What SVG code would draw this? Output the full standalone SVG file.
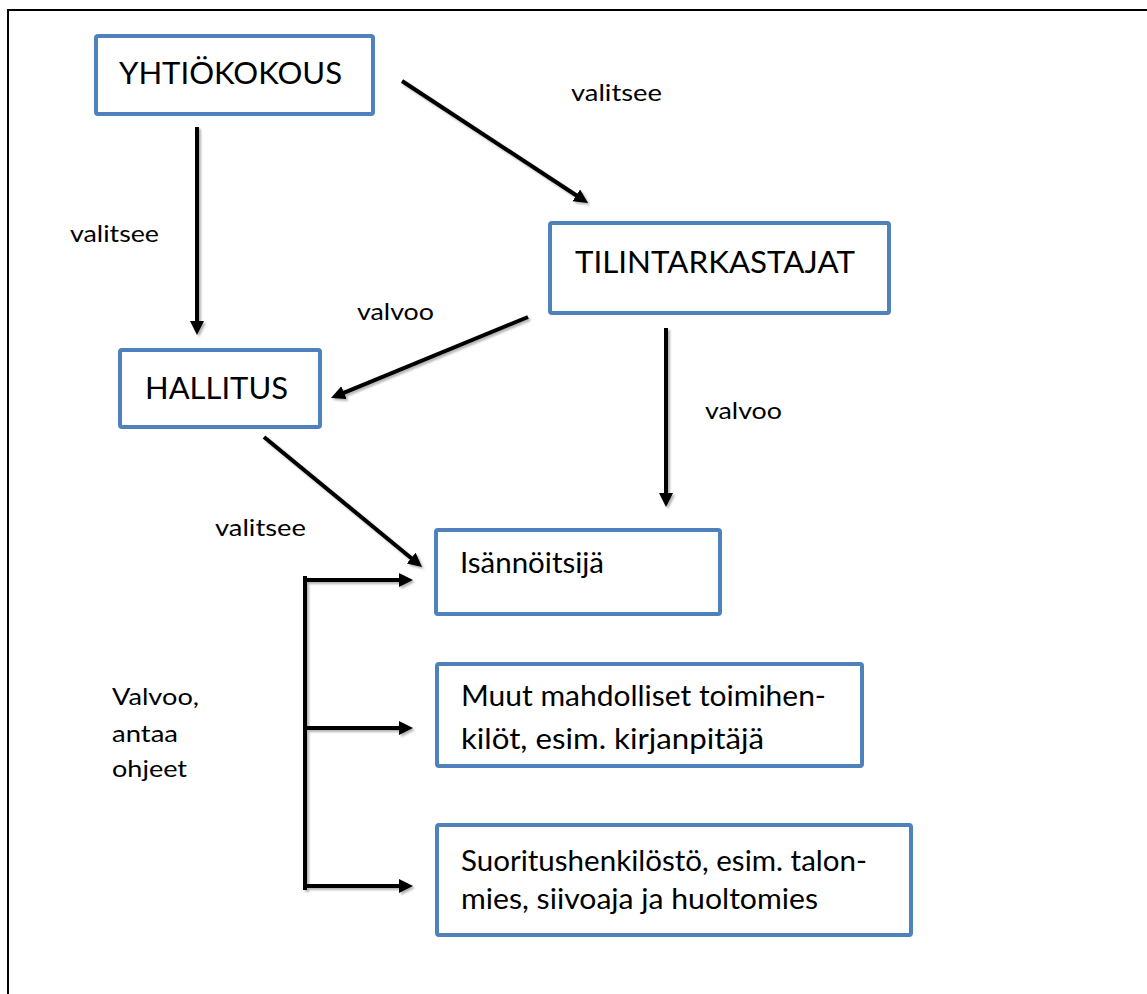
<svg xmlns="http://www.w3.org/2000/svg" width="1147" height="994" viewBox="0 0 1147 994">
  <style>
    .box { fill: #ffffff; stroke: #4F81BD; stroke-width: 4; }
    .t { font-family: Lato, "Liberation Sans", sans-serif; fill: #000000; }
    .big { font-size: 31px; }
    .mid { font-size: 28px; }
    .lbl { font-size: 24px; }
    .arr { stroke: #000000; stroke-width: 4; fill: none; }
  </style>
  <defs>
    <marker id="ah" markerUnits="userSpaceOnUse" markerWidth="16" markerHeight="16" refX="3" refY="7" orient="auto">
      <path d="M0,0 L14,7 L0,14 z" fill="#000000"/>
    </marker>
    <filter id="sh" x="-20%" y="-20%" width="140%" height="140%">
      <feDropShadow dx="2" dy="2" stdDeviation="1.2" flood-color="#000000" flood-opacity="0.3"/>
    </filter>
  </defs>
  <rect width="1147" height="994" fill="#ffffff"/>
  <path d="M8,996 L8,10 L1149,10" fill="none" stroke="#000000" stroke-width="2"/>

  <g id="connectors" filter="url(#sh)">
    <line class="arr" x1="197" y1="127" x2="197" y2="324" marker-end="url(#ah)"/>
    <line class="arr" x1="402" y1="81" x2="578.8" y2="197" marker-end="url(#ah)"/>
    <line class="arr" x1="528" y1="317" x2="341.2" y2="393.8" marker-end="url(#ah)"/>
    <line class="arr" x1="666" y1="328" x2="666" y2="496" marker-end="url(#ah)"/>
    <line class="arr" x1="264" y1="437" x2="413.5" y2="560" marker-end="url(#ah)"/>
    <line class="arr" x1="305" y1="578" x2="305" y2="888" stroke-linecap="square"/>
    <line class="arr" x1="303" y1="580" x2="402" y2="580" marker-end="url(#ah)"/>
    <line class="arr" x1="303" y1="728" x2="402" y2="728" marker-end="url(#ah)"/>
    <line class="arr" x1="303" y1="886" x2="402" y2="886" marker-end="url(#ah)"/>
  </g>

  <g id="labels">
    <text class="t lbl" x="571" y="101" textLength="91" lengthAdjust="spacingAndGlyphs">valitsee</text>
    <text class="t lbl" x="70" y="242" textLength="89" lengthAdjust="spacingAndGlyphs">valitsee</text>
    <text class="t lbl" x="357" y="320" textLength="77" lengthAdjust="spacingAndGlyphs">valvoo</text>
    <text class="t lbl" x="705" y="419" textLength="77" lengthAdjust="spacingAndGlyphs">valvoo</text>
    <text class="t lbl" x="215" y="536" textLength="91" lengthAdjust="spacingAndGlyphs">valitsee</text>
    <text class="t lbl" x="112" y="705" textLength="87" lengthAdjust="spacingAndGlyphs">Valvoo,</text>
    <text class="t lbl" x="112" y="742" textLength="66" lengthAdjust="spacingAndGlyphs">antaa</text>
    <text class="t lbl" x="112" y="777" textLength="75" lengthAdjust="spacingAndGlyphs">ohjeet</text>
  </g>

  <g id="yhtiokokous">
    <rect class="box" x="96" y="36" width="277" height="78" rx="2"/>
    <text class="t big" x="119" y="84" textLength="223" lengthAdjust="spacingAndGlyphs">YHTIÖKOKOUS</text>
  </g>
  <g id="tilintarkastajat">
    <rect class="box" x="550" y="223" width="339" height="90" rx="2"/>
    <text class="t big" x="575" y="273" textLength="280" lengthAdjust="spacingAndGlyphs">TILINTARKASTAJAT</text>
  </g>
  <g id="hallitus">
    <rect class="box" x="120" y="350" width="200" height="77" rx="2"/>
    <text class="t big" x="145" y="399" textLength="143" lengthAdjust="spacingAndGlyphs">HALLITUS</text>
  </g>
  <g id="isannoitsija">
    <rect class="box" x="436" y="530" width="284" height="84" rx="2"/>
    <text class="t mid" x="460" y="573" textLength="144" lengthAdjust="spacingAndGlyphs">Isännöitsijä</text>
  </g>
  <g id="muut">
    <rect class="box" x="437" y="664" width="425" height="102" rx="2"/>
    <text class="t mid" x="461" y="706" textLength="365" lengthAdjust="spacingAndGlyphs">Muut mahdolliset toimihen-</text>
    <text class="t mid" x="461" y="749" textLength="303" lengthAdjust="spacingAndGlyphs">kilöt, esim. kirjanpitäjä</text>
  </g>
  <g id="suoritus">
    <rect class="box" x="437" y="825" width="474" height="110" rx="2"/>
    <text class="t mid" x="461" y="871" textLength="406" lengthAdjust="spacingAndGlyphs">Suoritushenkilöstö, esim. talon-</text>
    <text class="t mid" x="461" y="909" textLength="357" lengthAdjust="spacingAndGlyphs">mies, siivoaja ja huoltomies</text>
  </g>
</svg>
